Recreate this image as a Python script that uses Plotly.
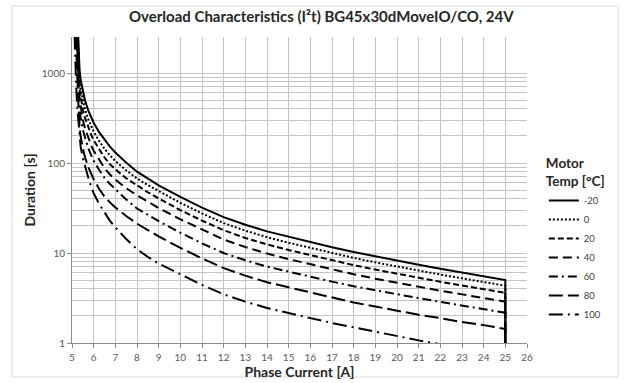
import plotly.graph_objects as go

# ---- data ----
temps = ["-20", "0", "20", "40", "60", "80", "100"]

mid_i = [8, 8.5, 9, 10, 11, 12, 13, 14, 15, 16, 17, 18, 19, 20, 21, 22, 23, 24, 25]

i_m20 = [5.285, 5.3, 5.35, 5.4, 5.5, 5.6, 5.75, 5.9, 6.0, 6.25, 6.5, 6.75, 7.0, 7.5] + mid_i + [25]
t_m20 = [2600, 1800, 1070, 840, 615, 495, 385, 315, 280, 220, 180, 152, 131, 101,
         80, 67, 56.5, 42, 32, 25.0, 20.6, 17.4, 15.1, 13.2, 11.6, 10.25, 9.15, 8.2, 7.4, 6.7, 6.08, 5.52, 5.0, 0.5]

i_0 = [5.27, 5.3, 5.35, 5.4, 5.5, 5.6, 5.75, 5.9, 6.0, 6.25, 6.5, 6.75, 7.0, 7.5] + mid_i + [25]
t_0 = [2600, 1440, 856, 672, 492, 396, 308, 252, 224, 176, 144, 122, 105, 83,
       67.2, 56.9, 48.6, 36.1, 27.5, 21.5, 17.7, 15.0, 13.0, 11.35, 9.98, 8.82, 7.87, 7.05, 6.36, 5.76, 5.23, 4.75, 4.33, 0.5]

i_20 = [5.24, 5.26, 5.3, 5.35, 5.4, 5.5, 5.6, 5.75, 5.9, 6.0, 6.25, 6.5, 6.75, 7.0, 7.5] + mid_i + [25]
t_20 = [2600, 1800, 1080, 660, 530, 394, 317, 246, 202, 179, 141, 115, 97, 85, 67.7,
        56, 47.3, 40.4, 30.0, 22.9, 17.9, 14.7, 12.45, 10.8, 9.44, 8.3, 7.33, 6.54, 5.86, 5.29, 4.79, 4.35, 3.95, 3.62, 0.5]

i_40 = [5.22, 5.25, 5.3, 5.35, 5.4, 5.5, 5.6, 5.75, 5.9, 6.0, 6.25, 6.5, 6.75, 7.0, 7.5] + mid_i + [25]
t_40 = [2600, 1500, 880, 524, 412, 301, 243, 189, 154, 137, 108, 88, 74.5, 65.5, 52.5,
        43.6, 37.2, 31.6, 23.7, 18.1, 14.1, 11.65, 9.85, 8.55, 7.48, 6.58, 5.8, 5.18, 4.65, 4.2, 3.81, 3.47, 3.15, 2.88, 0.5]

i_60 = [5.21, 5.25, 5.3, 5.35, 5.4, 5.5, 5.6, 5.75, 5.9, 6.0, 6.25, 6.5, 6.75, 7.0, 7.5] + mid_i + [25]
t_60 = [2600, 1200, 684, 407, 319, 234, 188, 146, 120, 106, 84, 68.4, 58.5, 51, 39.4,
        31.2, 26.5, 22.6, 16.8, 12.8, 10.0, 8.3, 7.06, 6.19, 5.44, 4.81, 4.27, 3.84, 3.46, 3.15, 2.86, 2.61, 2.38, 2.17, 0.5]

i_80 = [5.17, 5.2, 5.25, 5.3, 5.35, 5.4, 5.5, 5.6, 5.75, 5.9, 6.0, 6.25, 6.5, 6.75, 7.0, 7.5] + mid_i + [25]
t_80 = [2600, 1600, 800, 423, 251, 197, 145, 116, 90.5, 74, 65.8, 51.7, 42.3, 36.5, 32.1, 25.8,
        21.2, 18.0, 15.3, 11.4, 8.7, 6.8, 5.6, 4.73, 4.15, 3.63, 3.19, 2.82, 2.54, 2.28, 2.06, 1.89, 1.71, 1.58, 1.43, 0.5]

i_100 = [5.12, 5.15, 5.2, 5.25, 5.3, 5.35, 5.4, 5.5, 5.6, 5.75, 5.9, 6.0, 6.25, 6.5, 6.75, 7.0, 7.5] + mid_i
t_100 = [2600, 1200, 650, 400, 270, 182, 151, 114, 92, 69, 53.5, 46.2, 35.2, 27.9, 22.8, 19.3, 14.3,
         11.0, 9.05, 7.63, 5.75, 4.42, 3.48, 2.88, 2.45, 2.14, 1.89, 1.67, 1.49, 1.33, 1.19, 1.07, 0.97, 0.88, 0.8, 0.725]

x_ticks = list(range(5, 27))
y_ticks = [1, 10, 100, 1000]
y_minor = [2, 3, 4, 5, 6, 7, 8, 9, 20, 30, 40, 50, 60, 70, 80, 90,
           200, 300, 400, 500, 600, 700, 800, 900]

currents = [i_m20, i_0, i_20, i_40, i_60, i_80, i_100]
durations = [t_m20, t_0, t_20, t_40, t_60, t_80, t_100]
dashes = ["solid", "2px,2px", "6px,3px", "9px,5px", "9px,4px,2px,4px",
          "14px,5px", "14px,5px,2px,5px"]

FONT = "Lato"
GRID = "#c3c3c3"

fig = go.Figure()
for name, xs, ys, d in zip(temps, currents, durations, dashes):
    fig.add_trace(go.Scatter(
        x=xs, y=ys, mode="lines", name=name,
        line=dict(color="black", width=2, dash=d),
    ))

fig.update_layout(
    width=630, height=383, autosize=False,
    margin=dict(l=72, r=103, t=37, b=40, autoexpand=False),
    paper_bgcolor="white", plot_bgcolor="white",
    font=dict(family=FONT, color="#404040"),
    title=dict(
        text="<b>Overload Characteristics (I²t) BG45x30dMoveIO/CO, 24V</b>",
        x=0.51, xanchor="center", y=0.955, yanchor="middle",
        font=dict(family=FONT, size=15, color="#262626"),
    ),
    showlegend=True,
    legend=dict(
        x=1.037, xanchor="left", y=0.628, yanchor="top",
        title=dict(text="<b>Motor<br>Temp [°C]</b>",
                   font=dict(family=FONT, size=13.5, color="#262626")),
        font=dict(family=FONT, size=9.5, color="#404040"),
        itemwidth=30, bgcolor="rgba(0,0,0,0)",
    ),
    xaxis=dict(
        range=[5, 26], tickvals=x_ticks, ticktext=[str(v) for v in x_ticks],
        automargin=False,
        showgrid=True, gridcolor=GRID, gridwidth=1,
        showline=True, linecolor="#8c8c8c", linewidth=1,
        ticks="outside", ticklen=4, tickcolor="#8c8c8c",
        ticklabelstandoff=1,
        tickfont=dict(family=FONT, size=10, color="#595959"),
        title=dict(text="<b>Phase Current [A]</b>", standoff=0,
                   font=dict(family=FONT, size=14, color="#262626")),
        zeroline=False,
    ),
    yaxis=dict(
        type="log", range=[0, 3.4],
        tickvals=y_ticks, ticktext=[str(v) for v in y_ticks],
        automargin=False,
        showgrid=True, gridcolor=GRID, gridwidth=1,
        minor=dict(tickvals=y_minor, showgrid=True, gridcolor=GRID,
                   gridwidth=1, ticks=""),
        showline=True, linecolor="#8c8c8c", linewidth=1,
        ticks="outside", ticklen=4, tickcolor="#8c8c8c",
        tickfont=dict(family=FONT, size=10, color="#595959"),
        title=dict(text="<b>Duration [s]</b>", standoff=2,
                   font=dict(family=FONT, size=14, color="#262626")),
        zeroline=False,
    ),
    shapes=[dict(type="rect", xref="paper", yref="paper",
                 x0=(12 - 72) / 455, x1=(618 - 72) / 455,
                 y0=(343 - 377) / 306, y1=(343 - 6) / 306,
                 line=dict(color="#d9d9d9", width=1), layer="below")],
)

fig.write_html("out.html")
